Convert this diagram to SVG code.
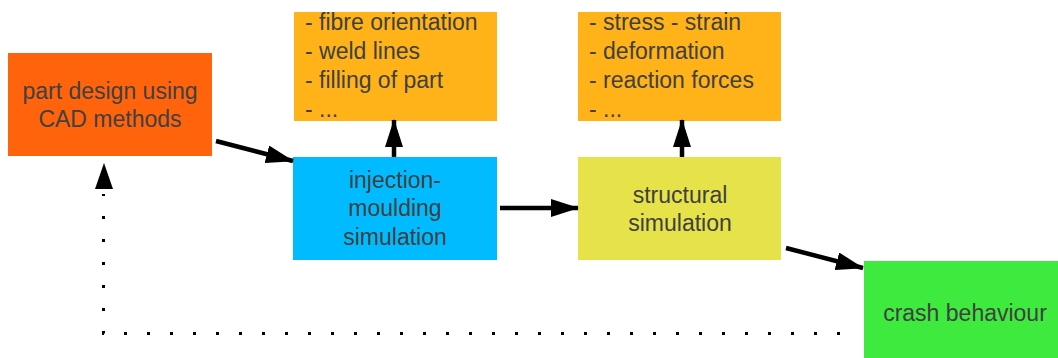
<svg xmlns="http://www.w3.org/2000/svg" width="1058" height="358" viewBox="0 0 1058 358">
<style>
text{font-family:"Liberation Sans",Arial,sans-serif;font-size:23px;fill:#404040}
.c{text-anchor:middle}
.e{stroke:#000;stroke-width:4.5;fill:none}
.d{stroke:#000;stroke-width:3;fill:none;stroke-dasharray:3 20}
</style>
<defs>
<marker id="ah" viewBox="0 0 28 18" refX="27" refY="9" markerWidth="28" markerHeight="18" markerUnits="userSpaceOnUse" orient="auto">
<path d="M0,0 L28,9 L0,18 z" fill="#000"/>
</marker>
</defs>
<g id="n-cad">
<rect x="8" y="53" width="204" height="103" fill="#FF640C"/>
<text class="c" x="110" y="99">part design using</text>
<text class="c" x="110" y="127">CAD methods</text>
</g>
<g id="n-imres">
<rect x="294" y="12" width="203" height="109" fill="#FFB319"/>
<text x="305" y="30">- fibre orientation</text>
<text x="305" y="59">- weld lines</text>
<text x="305" y="88">- filling of part</text>
<text x="305" y="117">- ...</text>
</g>
<g id="n-im">
<rect x="293" y="157" width="204" height="103" fill="#00BBFF"/>
<text class="c" x="395" y="188">injection-</text>
<text class="c" x="395" y="216">moulding</text>
<text class="c" x="395" y="245">simulation</text>
</g>
<g id="n-stres">
<rect x="578" y="12" width="203" height="109" fill="#FFB319"/>
<text x="589" y="30">- stress - strain</text>
<text x="589" y="59">- deformation</text>
<text x="589" y="88">- reaction forces</text>
<text x="589" y="117">- ...</text>
</g>
<g id="n-struct">
<rect x="578" y="157" width="203" height="103" fill="#E6E24A"/>
<text class="c" x="680" y="203">structural</text>
<text class="c" x="680" y="231">simulation</text>
</g>
<g id="n-crash">
<rect x="864" y="261" width="194" height="97" fill="#3EEA3E"/>
<text class="c" x="965" y="321">crash behaviour</text>
</g>
<g id="connectors">
<line class="e" x1="216" y1="141" x2="293" y2="161" marker-end="url(#ah)"/>
<line class="e" x1="394" y1="157" x2="394" y2="120" marker-end="url(#ah)"/>
<line class="e" x1="500" y1="208" x2="578" y2="208" marker-end="url(#ah)"/>
<line class="e" x1="682" y1="157" x2="682" y2="120" marker-end="url(#ah)"/>
<line class="e" x1="786" y1="248" x2="863" y2="268" marker-end="url(#ah)"/>
<path class="d" d="M840,333.5 L103.5,333.5 L103.5,194"/>
<path d="M104,163 L95,189 L113,189 z" fill="#000"/>
</g>
</svg>
